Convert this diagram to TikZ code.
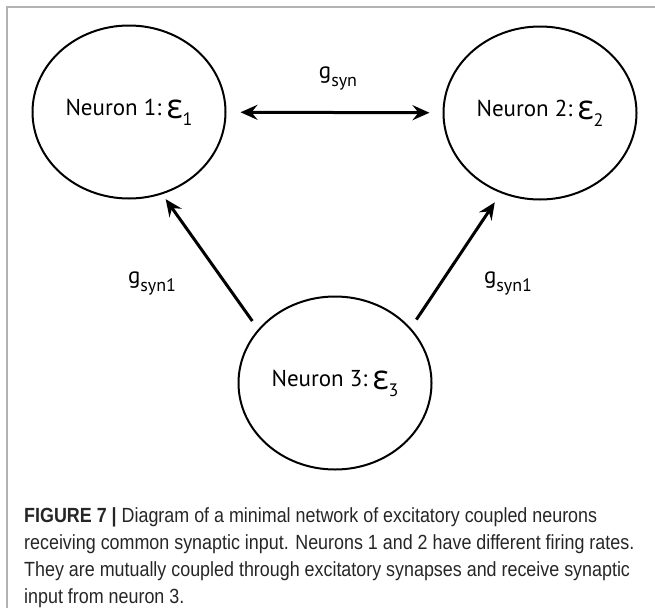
\documentclass[tikz,border=0pt]{standalone}
\usepackage{fontspec}
\setmainfont{PT Sans}
\newfontfamily\grkfont{Open Sans}
\newfontfamily\capfont[FakeStretch=0.873]{Liberation Sans}
\usepackage{tikz}
\usetikzlibrary{shapes.geometric, arrows.meta}

\tikzset{
  neuron/.style={draw, ellipse, line width=2pt, minimum width=193pt, minimum height=173pt,
    inner sep=0pt, font=\fontsize{23}{26}\selectfont},
  syn/.style={line width=3pt, -{Stealth[length=17pt, width=15pt, inset=6pt]}},
  synboth/.style={line width=3pt, {Stealth[length=17pt, width=15pt, inset=6pt]}-{Stealth[length=17pt, width=15pt, inset=6pt]}},
  glabel/.style={inner sep=0pt, font=\fontsize{23}{26}\selectfont}
}
\newcommand{\neps}[1]{\hspace{5pt}\raisebox{-3pt}{\grkfont\fontsize{34}{34}\selectfont ε}\raisebox{-10pt}{\fontsize{18}{18}\selectfont #1}}
\newcommand{\gsub}[1]{g\raisebox{-8pt}{\fontsize{18}{18}\selectfont #1}}

\begin{document}
\begin{tikzpicture}[x=1pt, y=-1pt]

    \useasboundingbox (0,0) rectangle (655,608);

    % Frame (top and left only)
    \draw[gray!60, line width=1.5pt] (7,608) -- (7,7) -- (655,7);

    % Neurons
    \node[neuron] (n1) at (129,112) {Neuron 1:\neps{1}};
    \node[neuron] (n2) at (540,113) {Neuron 2:\neps{2}};
    \node[neuron] (n3) at (335,383) {Neuron 3:\neps{3}};

    % Mutual coupling
    \draw[synboth, shorten <=14pt, shorten >=13pt] (n1) -- (n2);
    \node[glabel] (gs) at (338,78) {\gsub{syn}};

    % Common input from neuron 3
    \draw[syn, shorten <=10pt, shorten >=6pt] (n3.145) -- (n1.292);
    \draw[syn, shorten <=10pt, shorten >=11pt] (n3.36) -- (n2.244);
    \node[glabel] (gs1) at (152,283) {\gsub{syn1}};
    \node[glabel] (gs2) at (508,283) {\gsub{syn1}};

    % Caption
    \node[anchor=north west, align=left, inner sep=0pt, text=black!85,
      font=\capfont\fontsize{20.5}{27.2}\selectfont] (caption) at (24,507)
      {\textbf{FIGURE 7 |} Diagram of a minimal network of excitatory coupled neurons\\
       receiving common synaptic input. Neurons 1 and 2 have different firing rates.\\
       They are mutually coupled through excitatory synapses and receive synaptic\\
       input from neuron 3.};

\end{tikzpicture}
\end{document}
